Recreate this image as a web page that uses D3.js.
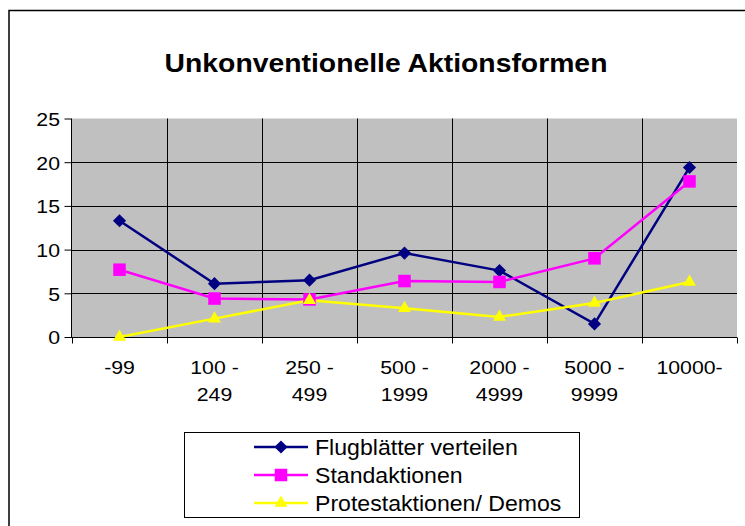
<!DOCTYPE html>
<html>
<head>
<meta charset="utf-8">
<script src="https://cdn.jsdelivr.net/npm/d3@7"></script>
<style>
html,body{margin:0;padding:0;background:#fff;}
svg{display:block;font-family:Arial,"Liberation Sans",sans-serif;}
</style>
</head>
<body>
<svg id="chart" width="745" height="526"></svg>
<script>
const title = "Unkonventionelle Aktionsformen";
const categories = [["-99"],["100 -","249"],["250 -","499"],["500 -","1999"],["2000 -","4999"],["5000 -","9999"],["10000-"]];
const flugblaetter = [13.3, 6.1, 6.5, 9.6, 7.6, 1.5, 19.4];
const standaktionen = [7.7, 4.4, 4.3, 6.4, 6.3, 9.0, 17.8];
const protestaktionen = [0, 2.1, 4.2, 3.3, 2.3, 3.9, 6.3];
const yTicks = [0, 5, 10, 15, 20, 25];
const seriesNames = ["Flugblätter verteilen", "Standaktionen", "Protestaktionen/ Demos"];

(function () {
const series = [
  {name: seriesNames[0], values: flugblaetter, color: "#000080", symbol: d3.symbolDiamond2},
  {name: seriesNames[1], values: standaktionen, color: "#FF00FF", symbol: d3.symbolSquare2},
  {name: seriesNames[2], values: protestaktionen, color: "#FFFF00", symbol: d3.symbolTriangle2}
];

const svg = d3.select("#chart");
// outer frame
svg.append("rect").attr("x", 9).attr("y", 10.5).attr("width", 760).attr("height", 540)
  .attr("fill", "#fff").attr("stroke", "#000").attr("stroke-width", 1.5);

const pL = 72, pR = 737, pT = 118.5, pB = 337;
const x = d3.scaleBand().domain(d3.range(categories.length)).range([pL, pR]).padding(0);
const y = d3.scaleLinear().domain([0, 25]).range([pB, pT]);

svg.append("text").attr("transform", "translate(386,72) scale(1.09,1)").attr("text-anchor", "middle")
  .attr("font-size", 26).attr("font-weight", "bold").text(title);

// plot background
svg.append("rect").attr("x", pL).attr("y", pT).attr("width", pR - pL).attr("height", pB - pT)
  .attr("fill", "#C0C0C0");

// horizontal gridlines
svg.append("g").selectAll("line").data(yTicks.filter(t => t > 0 && t < 25)).join("line")
  .attr("x1", pL).attr("x2", pR)
  .attr("y1", d => Math.round(y(d)) + 0.5).attr("y2", d => Math.round(y(d)) + 0.5)
  .attr("stroke", "#000").attr("stroke-width", 1);

// vertical gridlines
svg.append("g").selectAll("line").data(d3.range(1, categories.length)).join("line")
  .attr("x1", d => Math.round(x(d)) + 0.5).attr("x2", d => Math.round(x(d)) + 0.5)
  .attr("y1", pT).attr("y2", pB)
  .attr("stroke", "#000").attr("stroke-width", 1);

// y axis
const yAxis = d3.axisLeft(y).tickValues(yTicks).tickSize(7).tickPadding(5);
const gy = svg.append("g").attr("transform", `translate(${pL - 0.5},0)`).call(yAxis);
gy.select(".domain").attr("stroke", "#000").attr("d", `M0,${pT}V${pB}`);
gy.selectAll(".tick line").attr("stroke", "#000");
gy.selectAll(".tick text").attr("font-size", 19).attr("font-family", "Arial, 'Liberation Sans', sans-serif")
  .attr("fill", "#000").attr("x", 0).attr("dy", "0.36em").attr("transform", "translate(-11.5,0) scale(1.12,1)");

// x axis
const xAxis = d3.axisBottom(x).tickSize(0).tickFormat("");
const gx = svg.append("g").attr("transform", `translate(0,${pB + 0.5})`).call(xAxis);
gx.select(".domain").attr("stroke", "#000").attr("d", `M${pL - 7},0H${pR}`);
gx.append("g").selectAll("line").data(d3.range(0, categories.length + 1)).join("line")
  .attr("x1", d => Math.round(d < categories.length ? x(d) : pR) + 0.5)
  .attr("x2", d => Math.round(d < categories.length ? x(d) : pR) + 0.5)
  .attr("y1", 0).attr("y2", 6).attr("stroke", "#000");
// x labels
const lab = svg.append("g");
categories.forEach((c, i) => {
  const t = lab.append("text").attr("text-anchor", "middle").attr("font-size", 19).attr("fill", "#000")
    .attr("transform", `translate(${x(i) + x.bandwidth() / 2},0) scale(1.12,1)`);
  c.forEach((ln, j) => {
    t.append("tspan").attr("x", 0).attr("y", 374 + j * 27).text(ln);
  });
});

// lines and markers
const line = d3.line().x((d, i) => x(i) + x.bandwidth() / 2).y(d => y(d));
const symSize = s => s.symbol === d3.symbolTriangle2 ? 120 : (s.symbol === d3.symbolSquare2 ? 200 : 110);
series.forEach(s => {
  svg.append("path").datum(s.values).attr("d", line).attr("fill", "none")
    .attr("stroke", s.color).attr("stroke-width", 2.5);
});
series.forEach(s => {
  const sym = d3.symbol().type(s.symbol).size(symSize(s));
  svg.append("g").selectAll("path").data(s.values).join("path")
    .attr("transform", (d, i) => `translate(${x(i) + x.bandwidth() / 2},${y(d)})`)
    .attr("d", sym).attr("fill", s.color);
});

// legend
const lg = svg.append("g");
lg.append("rect").attr("x", 184.5).attr("y", 432.5).attr("width", 395).attr("height", 85)
  .attr("fill", "#fff").attr("stroke", "#000").attr("stroke-width", 1);
series.forEach((s, i) => {
  const cy = 447 + i * 28;
  lg.append("line").attr("x1", 254).attr("x2", 308).attr("y1", cy).attr("y2", cy)
    .attr("stroke", s.color).attr("stroke-width", 2.5);
  const sym = d3.symbol().type(s.symbol).size(symSize(s));
  lg.append("path").attr("transform", `translate(281,${cy})`).attr("d", sym).attr("fill", s.color);
  lg.append("text").attr("transform", `translate(315,${cy}) scale(1.05,1)`).attr("dy", "0.36em")
    .attr("font-size", 22).attr("fill", "#000").text(s.name);
});
})();
</script>
</body>
</html>
